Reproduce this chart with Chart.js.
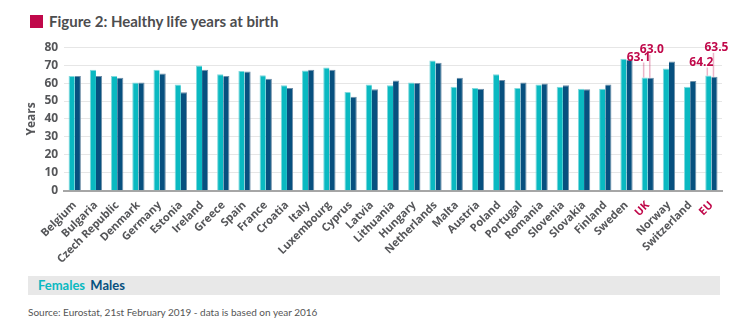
<!DOCTYPE html>
<html>
<head>
<meta charset="utf-8">
<script src="https://cdn.jsdelivr.net/npm/chart.js@4"></script>
<style>
  body { margin: 0; background: #fff; font-family: Lato, "Open Sans", sans-serif; }
  #wrap { position: relative; width: 750px; height: 330px; overflow: hidden; }
  #title { position: absolute; left: 30px; top: 12px; font-size: 15px; font-weight: bold; color: #4d4d4f; }
  #title span { display: inline-block; width: 13px; height: 13px; background: #c0084a; margin-right: 6px; vertical-align: -1px; }
  #chartBox { position: absolute; left: 0; top: 34px; width: 750px; height: 232px; }
  #legend { position: absolute; left: 28px; top: 276px; width: 692px; height: 19px; background: #e8e8e8; font-size: 13px; font-weight: bold; line-height: 19px; }
  #legend .f { color: #0ab9c1; margin-left: 10px; }
  #legend .m { color: #07507f; margin-left: 2px; }
  #source { position: absolute; left: 28px; top: 306px; font-size: 10px; color: #555; }
</style>
</head>
<body>
<div id="wrap">
  <div id="title"><span></span>Figure 2: Healthy life years at birth</div>
  <div id="chartBox"><canvas id="chart"></canvas></div>
  <div id="legend"><span class="f">Females</span> <span class="m">Males</span></div>
  <div id="source">Source: Eurostat, 21st February 2019 - data is based on year 2016</div>
</div>
<script>
// categories and values (years)
const countries = ['Belgium', 'Bulgaria', 'Czech Republic', 'Denmark', 'Germany', 'Estonia', 'Ireland', 'Greece',
  'Spain', 'France', 'Croatia', 'Italy', 'Luxembourg', 'Cyprus', 'Latvia', 'Lithuania', 'Hungary', 'Netherlands',
  'Malta', 'Austria', 'Poland', 'Portugal', 'Romania', 'Slovenia', 'Slovakia', 'Finland', 'Sweden', 'UK',
  'Norway', 'Switzerland', 'EU'];
const females = [63.9, 67.5, 63.9, 60.3, 67.5, 59.2, 69.8, 64.9, 66.8, 64.4, 58.8, 67.0, 68.7, 55.0, 59.2, 58.8,
  60.3, 72.6, 57.9, 57.3, 64.9, 57.3, 59.2, 57.9, 56.9, 56.9, 73.6, 63.1, 68.1, 57.9, 64.2];
const males = [63.9, 63.9, 63.0, 60.3, 65.4, 54.9, 67.5, 63.9, 66.4, 62.4, 57.3, 67.5, 67.5, 52.4, 56.6, 61.5,
  60.0, 71.3, 63.0, 56.9, 61.7, 60.3, 59.8, 58.8, 56.6, 59.2, 73.0, 63.0, 72.1, 61.1, 63.5];
const highlighted = ['UK', 'EU'];
const yTicks = [0, 10, 20, 30, 40, 50, 60, 70, 80];

const TEAL = '#0ab9c1';
const NAVY = '#07507f';
const CRIMSON = '#c0084a';
const GREY = '#555659';
const FONT = '"Open Sans", sans-serif';

// where each callout sits relative to its bar top: [dx, rise] for females, males
const calloutOffsets = {
  UK: [[-6, 16], [1, 24]],
  EU: [[-7, 9], [2, 25]]
};

// value labels with leader lines for UK and EU
const calloutPlugin = {
  id: 'callouts',
  afterDatasetsDraw(chart) {
    const c = chart.ctx;
    c.save();
    c.font = 'bold 12px ' + FONT;
    c.textAlign = 'center';
    c.textBaseline = 'bottom';
    highlighted.forEach(name => {
      const i = countries.indexOf(name);
      chart.data.datasets.forEach((ds, d) => {
        const bar = chart.getDatasetMeta(d).data[i];
        const [dx, rise] = calloutOffsets[name][d];
        const lx = bar.x - 1;
        c.strokeStyle = 'rgba(192,8,74,0.3)';
        c.lineWidth = 1.5;
        c.beginPath();
        c.moveTo(lx, bar.y);
        c.lineTo(lx, bar.y - rise + 1);
        c.stroke();
        c.fillStyle = CRIMSON;
        c.fillText(ds.data[i].toFixed(1), bar.x + dx, bar.y - rise + 2);
      });
    });
    c.restore();
  }
};

new Chart(document.getElementById('chart').getContext('2d'), {
  type: 'bar',
  data: {
    labels: countries,
    datasets: [
      { label: 'Females', data: females, backgroundColor: TEAL, borderColor: '#7fd9dd', borderWidth: { left: 1, top: 1 } },
      { label: 'Males', data: males, backgroundColor: NAVY, borderColor: '#6f8fa8', borderWidth: { right: 1, top: 1 } }
    ]
  },
  options: {
    responsive: true,
    maintainAspectRatio: false,
    animation: false,
    layout: { padding: { top: 12, right: 28, left: 24 } },
    plugins: { legend: { display: false }, tooltip: { enabled: false } },
    datasets: { bar: { categoryPercentage: 0.58, barPercentage: 1.0 } },
    scales: {
      x: {
        grid: { display: false },
        border: { color: '#a6a6a6', width: 2 },
        ticks: {
          minRotation: 45, maxRotation: 45, autoSkip: false, padding: 0,
          font: { family: FONT, size: 11, weight: 'bold' },
          color: ctx => highlighted.includes(countries[ctx.index]) ? CRIMSON : GREY
        }
      },
      y: {
        min: 0, max: 80,
        afterBuildTicks: axis => { axis.ticks = yTicks.map(v => ({ value: v })); },
        grid: { color: '#e6e6e6', lineWidth: 1, drawTicks: false },
        border: { display: false },
        ticks: { padding: 6, font: { family: FONT, size: 12, weight: 'bold' }, color: GREY },
        title: { display: true, text: 'Years', color: GREY, font: { family: FONT, size: 12, weight: 'bold' }, padding: 0 }
      }
    }
  },
  plugins: [calloutPlugin]
});
</script>
</body>
</html>
